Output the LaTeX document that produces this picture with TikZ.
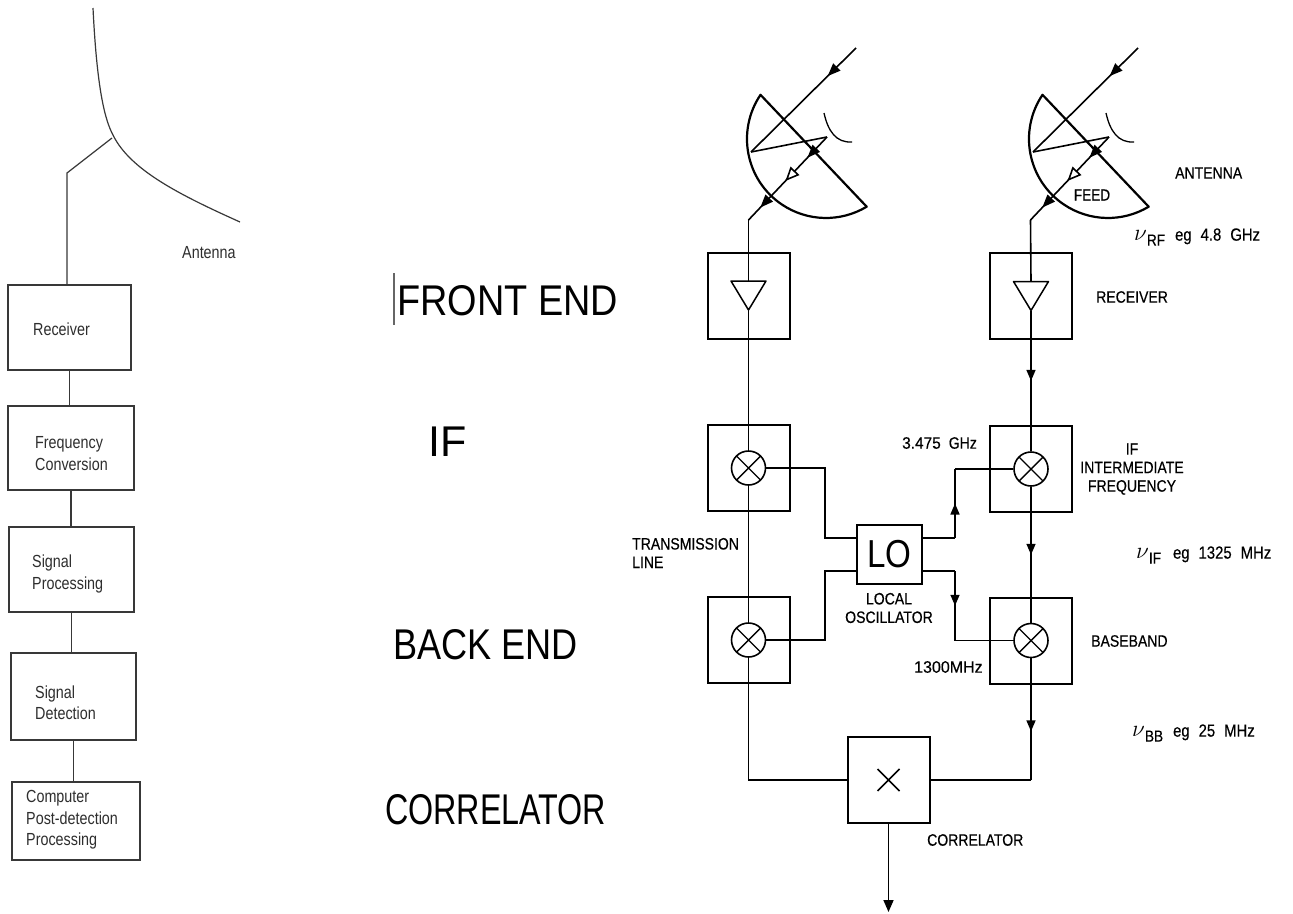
\documentclass[tikz,border=0pt]{standalone}
\usepackage{fontspec}
\setmainfont{Liberation Sans}
\newfontfamily\leftfont[FakeStretch=0.82]{Liberation Sans}
\newfontfamily\lblfont[FakeStretch=0.85,FakeBold=0.4]{Liberation Sans}
\newfontfamily\lofont[FakeStretch=0.85]{Liberation Sans}
\usetikzlibrary{arrows.meta,decorations.markings}
\tikzset{
  lline/.style={draw=black!78, line width=1.2pt},
  lboxst/.style={draw=black!78, line width=1.2pt, inner sep=0pt},
  ltext/.style={inner sep=0pt, anchor=west, align=left, text=black!82, font=\leftfont\fontsize{17.5}{21.5}\selectfont},
  bigtext/.style={inner sep=0pt, anchor=west, font=\fontsize{43}{43}\selectfont},
  rline/.style={draw=black, line width=1.6pt},
  rbox/.style={draw=black, line width=2pt, minimum width=82pt, minimum height=86pt, inner sep=0pt},
  mixer/.style={circle, draw=black, line width=1.6pt, minimum size=34pt, inner sep=0pt,
    path picture={\draw[line width=1.4pt] (path picture bounding box.north west) -- (path picture bounding box.south east) (path picture bounding box.north east) -- (path picture bounding box.south west);}},
  rtext/.style={inner sep=0pt, font=\lblfont\fontsize{16.5}{18.5}\selectfont},
  nutext/.style={inner sep=0pt, anchor=west, font=\lblfont\fontsize{17.5}{18}\selectfont},
  midarrow/.style={postaction={decorate}, decoration={markings, mark=at position #1 with {\arrow{Triangle[length=11pt,width=9pt]}}}},
  midarrow/.default=0.5,
  rayarrow/.style={postaction={decorate}, decoration={markings, mark=at position 0.27 with {\arrow{Triangle[length=13pt,width=10pt]}}}},
  feedarrows/.style={postaction={decorate}, decoration={markings,
    mark=at position 0.25 with {\arrow{Triangle[length=13pt,width=10pt]}},
    mark=at position 0.53 with {\arrow{Triangle[length=14pt,width=12pt,fill=white]}},
    mark=at position 0.85 with {\arrow{Triangle[length=13pt,width=10pt]}}}},
}
\newcommand{\drawdish}[2]{%
  \begin{scope}[xshift=#1pt]
    \coordinate (#2src) at (856,48);
    \coordinate (#2hit) at (751,152);
    \coordinate (#2sub) at (827,137);
    \coordinate (#2feed) at (748.5,220);
    \draw[rline, rayarrow] (#2src) -- (#2hit);
    \draw[rline] (#2hit) -- (#2sub);
    \draw[line width=1.3pt] (824,113) .. controls (828,131) and (836,143) .. (852,142);
    \draw[rline, feedarrows] (#2sub) -- (#2feed);
    \draw[line width=2.2pt, line join=round] (760.5,94.8) arc[start angle=214, end angle=59, radius=79] -- cycle;
  \end{scope}}
\newcommand{\nusym}[1]{\scalebox{1.35}{$\nu$}\raisebox{-5pt}{\fontsize{16}{16}\selectfont #1}}
\begin{document}
\begin{tikzpicture}[x=1pt,y=-1pt]
\fill[white] (0,0) rectangle (1293,913);
\useasboundingbox (0,0) rectangle (1293,913);

% ---------------- left block diagram ----------------
\draw[lline] (93,8) .. controls (97,90) and (105,120) .. (113,135) .. controls (130,170) and (180,195) .. (240,222);
\coordinate (afeed) at (112,138);
\coordinate (abend) at (67,173);
\node[ltext] (antlbl) at (182,253) {Antenna};

\node[lboxst, minimum width=123pt, minimum height=85pt] (rcv) at (69.5,327.5) {};
\node[lboxst, minimum width=126pt, minimum height=84pt] (frq) at (71,448) {};
\node[lboxst, minimum width=125pt, minimum height=85pt] (sgp) at (71.5,569.5) {};
\node[lboxst, minimum width=125pt, minimum height=87pt] (sgd) at (73.5,696.5) {};
\node[lboxst, minimum width=128pt, minimum height=78pt] (cmp) at (76,821) {};

\node[ltext] (rcvt) at (33,329) {Receiver};
\node[ltext] (frqt) at (35,453.5) {Frequency\\Conversion};
\node[ltext] (sgpt) at (32,574) {Signal\\Processing};
\node[ltext] (sgdt) at (35,702.5) {Signal\\Detection};
\node[ltext] (cmpt) at (26,820) {Computer\\Post-detection\\Processing};

\draw[lline] (afeed) -- (abend) -- (abend |- rcv.north);
\draw[lline] (rcv.south) -- (rcv.south |- frq.north);
\draw[lline] (frq.south) -- (frq.south |- sgp.north);
\draw[lline] (sgp.south) -- (sgp.south |- sgd.north);
\draw[lline] (sgd.south) -- (sgd.south |- cmp.north);

% ---------------- middle labels ----------------
\draw[black!60, line width=1.3pt] (394,273) -- (394,325);
\node[bigtext] (mfe) at (397,301) {\scalebox{0.88}[1]{FRONT END}};
\node[bigtext] (mif) at (428,442) {IF};
\node[bigtext] (mbe) at (393,645) {\scalebox{0.84}[1]{BACK END}};
\node[bigtext] (mco) at (385,810) {\scalebox{0.75}[1]{CORRELATOR}};

% ---------------- right diagram ----------------
\drawdish{0}{l}
\drawdish{282}{r}

\node[rbox] (lrx) at (748.5,295.5) {};
\node[rbox] (rrx) at (1031,296) {};
\node[rbox] (lifb) at (748.5,468) {};
\node[rbox] (rifb) at (1031,469) {};
\node[rbox] (lbbb) at (748.5,640) {};
\node[rbox] (rbbb) at (1031,640.5) {};
\node[mixer] (lm1) at (lifb.center) {};
\node[mixer] (rm1) at (rifb.center) {};
\node[mixer] (lm2) at (lbbb.center) {};
\node[mixer] (rm2) at (rbbb.center) {};

\coordinate (ltt) at ([shift={(0,-14.5)}]lrx.center);
\coordinate (lta) at ([shift={(0,14.5)}]lrx.center);
\coordinate (rtt) at ([shift={(0,-14.5)}]rrx.center);
\coordinate (rta) at ([shift={(0,14.5)}]rrx.center);
\draw[line width=1.5pt, line join=round] ([shift={(-17.5,-14.5)}]lrx.center) -- ([shift={(17.5,-14.5)}]lrx.center) -- (lta) -- cycle;
\draw[line width=1.5pt, line join=round] ([shift={(-17.5,-14.5)}]rrx.center) -- ([shift={(17.5,-14.5)}]rrx.center) -- (rta) -- cycle;

\node[draw, line width=2pt, minimum width=65pt, minimum height=59pt, inner sep=0pt, font=\lofont\fontsize{39}{39}\selectfont] (lo) at (889.5,554.5) {LO};
\node[rbox] (corr) at (888.5,780) {};
\draw[line width=1.5pt] ([shift={(-11,-11)}]corr.center) -- ([shift={(11,11)}]corr.center) ([shift={(11,-11)}]corr.center) -- ([shift={(-11,11)}]corr.center);

% chains
\draw[rline] (lfeed) -- (ltt);
\draw[rline] (lta) -- (lm1.north);
\draw[rline] (lm1.south) -- (lm2.north);
\coordinate (lcorner) at (lm2.south |- corr.west);
\draw[rline] (lm2.south) -- (lcorner) -- (corr.west);
\draw[rline] (rfeed) -- (rtt);
\draw[rline, midarrow] (rta) -- (rm1.north);
\draw[rline, midarrow] (rm1.south) -- (rm2.north);
\coordinate (rcorner) at (rm2.south |- corr.east);
\draw[rline, midarrow=0.6] (rm2.south) -- (rcorner);
\draw[rline] (rcorner) -- (corr.east);
\coordinate (outc) at (888.5,912);
\draw[rline, -{Triangle[length=12pt,width=10pt]}] (corr.south) -- (outc);

% local oscillator feeds
\coordinate (lo1) at ([yshift=16.5pt]lo.west);
\coordinate (lo2) at ([yshift=-16.5pt]lo.west);
\coordinate (lo3) at ([yshift=16.5pt]lo.east);
\coordinate (lo4) at ([yshift=-16.5pt]lo.east);
\coordinate (jx) at (825,0);
\coordinate (kx) at (955,0);
\draw[rline] (lm1.east) -- (lm1.east -| jx) |- (lo1);
\draw[rline] (lm2.east) -- (lm2.east -| jx) |- (lo2);
\draw[rline] (lo3) -- (lo3 -| kx);
\draw[rline, midarrow] (lo3 -| kx) -- (rm1.west -| kx);
\draw[rline] (rm1.west -| kx) -- (rm1.west);
\draw[rline] (lo4) -- (lo4 -| kx);
\draw[rline, midarrow] (lo4 -| kx) -- (rm2.west -| kx);
\draw[rline] (rm2.west -| kx) -- (rm2.west);

% labels
\node[rtext, font=\lblfont\fontsize{16}{16}\selectfont] (feedt) at (1092,195) {FEED};
\node[rtext, anchor=west] (antt) at (1175,173) {ANTENNA};
\node[rtext, anchor=west] (rcvl) at (1096,297) {RECEIVER};
\node[rtext, align=center] (ifl) at (1132,469) {IF\\INTERMEDIATE\\FREQUENCY};
\node[rtext, anchor=west] (bbl) at (1091,641) {BASEBAND};
\node[rtext, anchor=west] (corl) at (927,840) {CORRELATOR};
\node[rtext, anchor=west, align=left] (trl) at (632,553) {TRANSMISSION\\LINE};
\node[rtext, align=center] (locl) at (889,608) {LOCAL\\OSCILLATOR};
\node[rtext, anchor=west] (f1) at (902,443) {\scalebox{1.1}[1]{3.475}\hspace{8pt}GHz};
\node[rtext, anchor=west] (f2) at (914,667) {\scalebox{1.14}[1]{1300MHz}};

\node[nutext] (nurf) at (1134,237) {\nusym{RF}\hspace{10pt}eg\hspace{9pt}4.8\hspace{9pt}GHz};
\node[nutext] (nuif) at (1136,555) {\nusym{IF}\hspace{12pt}eg\hspace{9pt}1325\hspace{9pt}MHz};
\node[nutext] (nubb) at (1132,733) {\nusym{BB}\hspace{10pt}eg\hspace{9pt}25\hspace{9pt}MHz};
\end{tikzpicture}
\end{document}
